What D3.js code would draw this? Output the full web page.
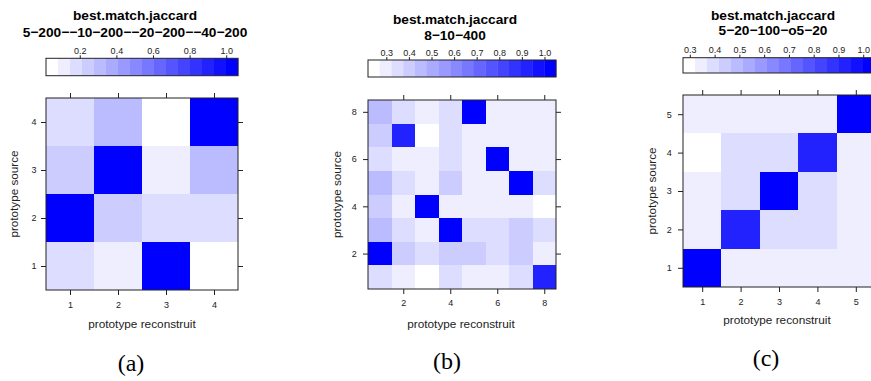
<!DOCTYPE html>
<html>
<head>
<meta charset="utf-8">
<script src="https://cdn.jsdelivr.net/npm/d3@7"></script>
<style>
  body { margin: 0; background: #fff; }
</style>
</head>
<body>
<svg id="chart" width="871" height="381" font-family="'Liberation Sans', Arial, Helvetica, sans-serif"></svg>
<script>
// ---- données : best.match.jaccard, lignes = prototype source 1..n (bas -> haut),
// colonnes = prototype reconstruit 1..n
const catsA = [1, 2, 3, 4];
const ticksA = [1, 2, 3, 4];
const keyTicksA = [0.2, 0.4, 0.6, 0.8, 1.0];
const valuesA = [
  [0.18, 0.12, 1.00, 0.08],
  [1.00, 0.25, 0.18, 0.18],
  [0.25, 1.00, 0.12, 0.31],
  [0.18, 0.31, 0.08, 1.00]
];

const catsB = [1, 2, 3, 4, 5, 6, 7, 8];
const ticksB = [2, 4, 6, 8];
const keyTicksB = [0.3, 0.4, 0.5, 0.6, 0.7, 0.8, 0.9, 1.0];
const valuesB = [
  [0.35, 0.30, 0.27, 0.35, 0.30, 0.30, 0.35, 0.92],
  [1.00, 0.40, 0.35, 0.40, 0.40, 0.35, 0.40, 0.30],
  [0.45, 0.35, 0.30, 1.00, 0.35, 0.35, 0.40, 0.35],
  [0.40, 0.30, 1.00, 0.30, 0.30, 0.30, 0.30, 0.27],
  [0.45, 0.35, 0.30, 0.40, 0.30, 0.30, 1.00, 0.35],
  [0.35, 0.30, 0.30, 0.35, 0.30, 1.00, 0.30, 0.30],
  [0.40, 0.92, 0.27, 0.35, 0.30, 0.30, 0.30, 0.30],
  [0.45, 0.35, 0.30, 0.35, 1.00, 0.30, 0.30, 0.30]
];

const catsC = [1, 2, 3, 4, 5];
const ticksC = [1, 2, 3, 4, 5];
const keyTicksC = [0.3, 0.4, 0.5, 0.6, 0.7, 0.8, 0.9, 1.0];
const valuesC = [
  [1.00, 0.35, 0.35, 0.35, 0.35],
  [0.35, 0.93, 0.40, 0.40, 0.35],
  [0.35, 0.40, 1.00, 0.40, 0.35],
  [0.32, 0.40, 0.40, 0.93, 0.35],
  [0.35, 0.35, 0.35, 0.35, 1.00]
];

const mainTitle = "best.match.jaccard";
const subTitles = ["5−200−−10−200−−20−200−−40−200", "8−10−400", "5−20−100−o5−20"];
const panelLabels = ["(a)", "(b)", "(c)"];
const xLabel = "prototype reconstruit";
const yLabel = "prototype source";

const SANS = "'Liberation Sans', Arial, Helvetica, sans-serif";
const SERIF = "'Liberation Serif', 'Times New Roman', serif";

// palette blanc -> bleu en 16 niveaux (comme colorRampPalette)
const palette = d3.range(16).map(i => d3.interpolateRgb("#ffffff", "#0000ff")(i / 15));

const svg = d3.select("#chart");
svg.append("rect").attr("width", 871).attr("height", 381).attr("fill", "#fff");

// mise en page de chaque panneau
const panels = [
  { cats: catsA, ticks: ticksA, keyTicks: keyTicksA, values: valuesA,
    box: { x0: 46, x1: 238, y0: 98, y1: 290 }, key: { y0: 58.3, y1: 75.7 },
    titleX: 135, titleY: [20, 36.5], yTitleX: 18, xTitleX: 142, xTitleY: 328.3,
    labX: 131, labY: 371, padL: 4.5, padB: 6.6 },
  { cats: catsB, ticks: ticksB, keyTicks: keyTicksB, values: valuesB,
    box: { x0: 368, x1: 556, y0: 100, y1: 289 }, key: { y0: 60, y1: 77 },
    titleX: 455, titleY: [24, 39.5], yTitleX: 341, xTitleX: 461, xTitleY: 328,
    labX: 447, labY: 369, padL: 6.3, padB: 5.6 },
  { cats: catsC, ticks: ticksC, keyTicks: keyTicksC, values: valuesC,
    box: { x0: 683, x1: 875, y0: 95, y1: 287 }, key: { y0: 57.7, y1: 73 },
    titleX: 773, titleY: [19.5, 34.5], yTitleX: 656, xTitleX: 777, xTitleY: 323.5,
    labX: 766, labY: 366, padL: 6.3, padB: 6.5 }
];

panels.forEach((p, idx) => drawPanel(p, idx));

function drawPanel(p, idx) {
  const n = p.cats.length;
  const g = svg.append("g");

  // étendue de l'échelle de couleur (plage des données élargie de 7 %)
  const flat = p.values.flat();
  const lo = d3.min(flat), hi = d3.max(flat);
  const pad = 0.07 * (hi - lo);
  const zDomain = [lo - pad, hi + pad];
  const color = d3.scaleQuantize().domain(zDomain).range(palette);

  const x = d3.scaleLinear().domain([0.5, n + 0.5]).range([p.box.x0, p.box.x1]);
  const y = d3.scaleLinear().domain([0.5, n + 0.5]).range([p.box.y1, p.box.y0]);

  // cellules
  const cells = [];
  p.values.forEach((row, i) => row.forEach((v, j) => {
    cells.push({ src: p.cats[i], rec: p.cats[j], v: v });
  }));
  g.append("g")
    .selectAll("rect")
    .data(cells)
    .join("rect")
    .attr("x", d => x(d.rec - 0.5))
    .attr("width", d => x(d.rec + 0.5) - x(d.rec - 0.5))
    .attr("y", d => y(d.src + 0.5))
    .attr("height", d => y(d.src - 0.5) - y(d.src + 0.5))
    .attr("fill", d => color(d.v))
    .attr("shape-rendering", "crispEdges");

  // axes sur les quatre côtés
  const styleAxis = sel => {
    sel.attr("font-family", SANS).attr("font-size", 9);
    sel.select(".domain").remove();
    sel.selectAll("line").attr("stroke", "#222");
    sel.selectAll("text").attr("fill", "#222");
  };
  const fmt = d3.format("d");
  g.append("g")
    .attr("transform", `translate(0,${p.box.y1})`)
    .call(d3.axisBottom(x).tickValues(p.ticks).tickFormat(fmt).tickSize(5).tickSizeOuter(0).tickPadding(p.padB))
    .call(styleAxis);
  g.append("g")
    .attr("transform", `translate(0,${p.box.y0})`)
    .call(d3.axisTop(x).tickValues(p.ticks).tickSize(5).tickSizeOuter(0).tickFormat(""))
    .call(styleAxis);
  g.append("g")
    .attr("transform", `translate(${p.box.x0},0)`)
    .call(d3.axisLeft(y).tickValues(p.ticks).tickFormat(fmt).tickSize(5).tickSizeOuter(0).tickPadding(p.padL))
    .call(styleAxis);
  g.append("g")
    .attr("transform", `translate(${p.box.x1},0)`)
    .call(d3.axisRight(y).tickValues(p.ticks).tickSize(5).tickSizeOuter(0).tickFormat(""))
    .call(styleAxis);

  // cadre
  g.append("rect")
    .attr("x", p.box.x0).attr("y", p.box.y0)
    .attr("width", p.box.x1 - p.box.x0).attr("height", p.box.y1 - p.box.y0)
    .attr("fill", "none").attr("stroke", "#222").attr("stroke-width", 1);

  // légende de couleur
  const z = d3.scaleLinear().domain(zDomain).range([p.box.x0, p.box.x1]);
  const step = (zDomain[1] - zDomain[0]) / palette.length;
  g.append("g")
    .selectAll("rect")
    .data(palette)
    .join("rect")
    .attr("x", (c, k) => z(zDomain[0] + k * step))
    .attr("width", (c, k) => z(zDomain[0] + (k + 1) * step) - z(zDomain[0] + k * step) + 0.3)
    .attr("y", p.key.y0)
    .attr("height", p.key.y1 - p.key.y0)
    .attr("fill", c => c);
  g.append("rect")
    .attr("x", p.box.x0).attr("y", p.key.y0)
    .attr("width", p.box.x1 - p.box.x0).attr("height", p.key.y1 - p.key.y0)
    .attr("fill", "none").attr("stroke", "#222").attr("stroke-width", 1);
  g.append("g")
    .attr("transform", `translate(0,${p.key.y0})`)
    .call(d3.axisTop(z).tickValues(p.keyTicks).tickSize(3).tickSizeOuter(0)
      .tickPadding(1.3).tickFormat(d3.format(".1f")))
    .call(styleAxis);

  // titres
  g.append("text")
    .attr("x", p.titleX).attr("y", p.titleY[0])
    .attr("text-anchor", "middle").attr("font-weight", "bold").attr("font-size", 13.7)
    .text(mainTitle);
  g.append("text")
    .attr("x", p.titleX).attr("y", p.titleY[1])
    .attr("text-anchor", "middle").attr("font-weight", "bold").attr("font-size", 13.7)
    .text(subTitles[idx]);

  // libellés des axes
  g.append("text")
    .attr("x", p.xTitleX).attr("y", p.xTitleY)
    .attr("text-anchor", "middle").attr("font-size", 11.8).attr("fill", "#222")
    .text(xLabel);
  g.append("text")
    .attr("transform", `translate(${p.yTitleX},${(p.box.y0 + p.box.y1) / 2}) rotate(-90)`)
    .attr("text-anchor", "middle").attr("font-size", 11.7).attr("fill", "#222")
    .text(yLabel);

  // étiquette du panneau
  g.append("text")
    .attr("x", p.labX).attr("y", p.labY)
    .attr("text-anchor", "middle")
    .attr("font-family", SERIF)
    .attr("font-size", 24)
    .text(panelLabels[idx]);
}
</script>
</body>
</html>
